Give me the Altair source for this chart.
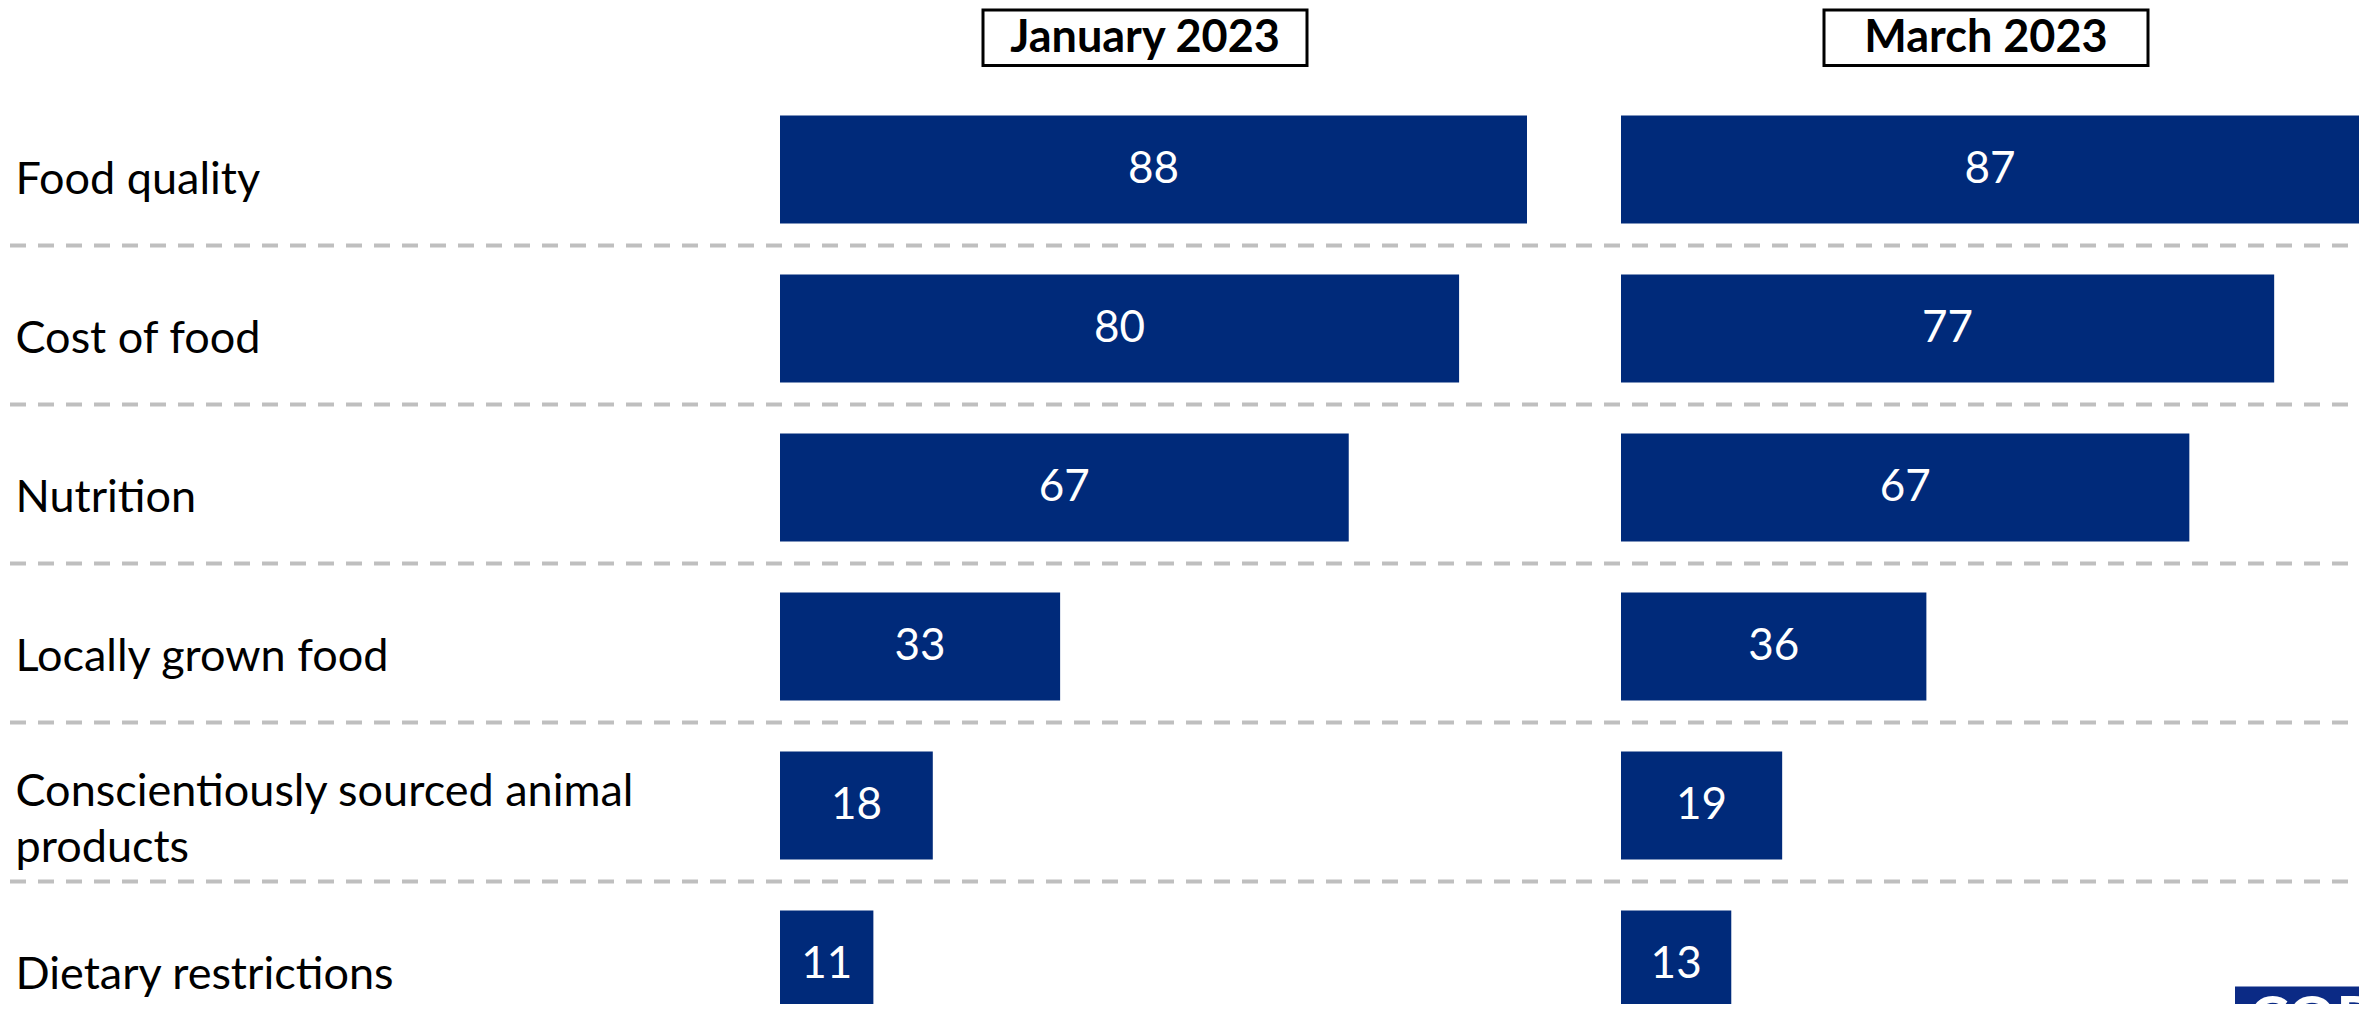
import altair as alt
import pandas as pd

categories = [
    "Food quality",
    "Cost of food",
    "Nutrition",
    "Locally grown food",
    "Conscientiously sourced animal products",
    "Dietary restrictions",
]
jan_values = [88, 80, 67, 33, 18, 11]
mar_values = [87, 77, 67, 36, 19, 13]
periods = ["January 2023", "March 2023"]
logo_text = ["COR"]

BAR = "#002a7a"
FONT = "Lato"
RULE = "#bfbfbf"
PLOT_H = 914          # visible plot height (page bottom edge)
BAND_RANGE = [0, 954]  # full band layout (last row runs past the bottom)

LABEL_EXPR = (
    "datum.label == 'Conscientiously sourced animal products' ? "
    "['Conscientiously sourced animal', 'products'] : datum.label"
)
LABEL_OFFSET = {
    "condition": {
        "test": "datum.label == 'Conscientiously sourced animal products'",
        "value": -14,
    },
    "value": 10,
}


def panel(values, period, xmax, width, show_labels, rule_x, rule_x2, logo=False):
    df = pd.DataFrame({"category": categories, "value": values})
    yscale = alt.Scale(domain=categories, paddingInner=0.3208, paddingOuter=0.1604,
                       range=BAND_RANGE)
    xscale = alt.Scale(domain=[0, xmax], nice=False, zero=True)
    if show_labels:
        yaxis = alt.Axis(
            title=None, domain=False, ticks=False, grid=False,
            labelAlign="left", labelBaseline="middle", labelPadding=765,
            labelFont=FONT, labelFontSize=45, labelColor="black",
            labelLimit=1200, labelLineHeight=56, labelExpr=LABEL_EXPR,
            labelOffset=LABEL_OFFSET,
        )
    else:
        yaxis = None

    base = alt.Chart(df)
    rules = base.mark_rule(
        color=RULE, strokeWidth=4, strokeDash=[16, 12], yOffset=22
    ).transform_filter(
        alt.datum.category != categories[-1]
    ).encode(
        x=alt.value(rule_x), x2=alt.value(rule_x2),
        y=alt.Y("category:N", sort=categories, scale=yscale, bandPosition=1, axis=yaxis),
    )
    bars = base.mark_bar(color=BAR, clip=True).encode(
        x=alt.X("value:Q", scale=xscale, axis=None),
        y=alt.Y("category:N", sort=categories, scale=yscale, axis=yaxis),
    )
    labels = base.mark_text(
        color="white", font=FONT, fontSize=44, baseline="middle", align="center",
        clip=True,
    ).transform_calculate(mid="datum.value / 2").encode(
        x=alt.X("mid:Q", scale=xscale, axis=None),
        y=alt.Y("category:N", sort=categories, scale=yscale, axis=yaxis),
        text=alt.Text("value:Q"),
    )
    hdf = pd.DataFrame({"period": [period]})
    hbox = alt.Chart(hdf).mark_rect(fill="white", stroke="black", strokeWidth=3).encode(
        x=alt.value(203), x2=alt.value(527), y=alt.value(-80), y2=alt.value(-24.5)
    )
    htext = alt.Chart(hdf).mark_text(
        font=FONT, fontSize=45, fontWeight="bold", color="black",
        baseline="middle", align="center",
    ).encode(x=alt.value(365), y=alt.value(-52), text="period:N")
    layers = [rules, bars, labels, hbox, htext]
    if logo:
        ldf = pd.DataFrame({"t": logo_text})
        lrect = alt.Chart(ldf).mark_rect(color="#0b2a85", clip=True).encode(
            x=alt.value(614), x2=alt.value(738), y=alt.value(896.5), y2=alt.value(940)
        )
        ltext = alt.Chart(ldf).mark_text(
            font=FONT, fontSize=60, fontWeight="bold", color="white",
            align="left", baseline="top", clip=True,
        ).encode(x=alt.value(628), y=alt.value(902), text="t:N")
        layers += [lrect, ltext]
    return alt.layer(*layers).properties(width=width, height=PLOT_H)


jan = panel(jan_values, periods[0], 88, 747, True, -770, 792)
mar = panel(mar_values, periods[1], 87, 738, False, -45, 736, logo=True)

chart = alt.hconcat(jan, mar, spacing=0).properties(
    padding=0, background="white"
).configure_view(strokeWidth=0)

chart.save("out.html", embed_options={"renderer": "svg", "actions": False})
